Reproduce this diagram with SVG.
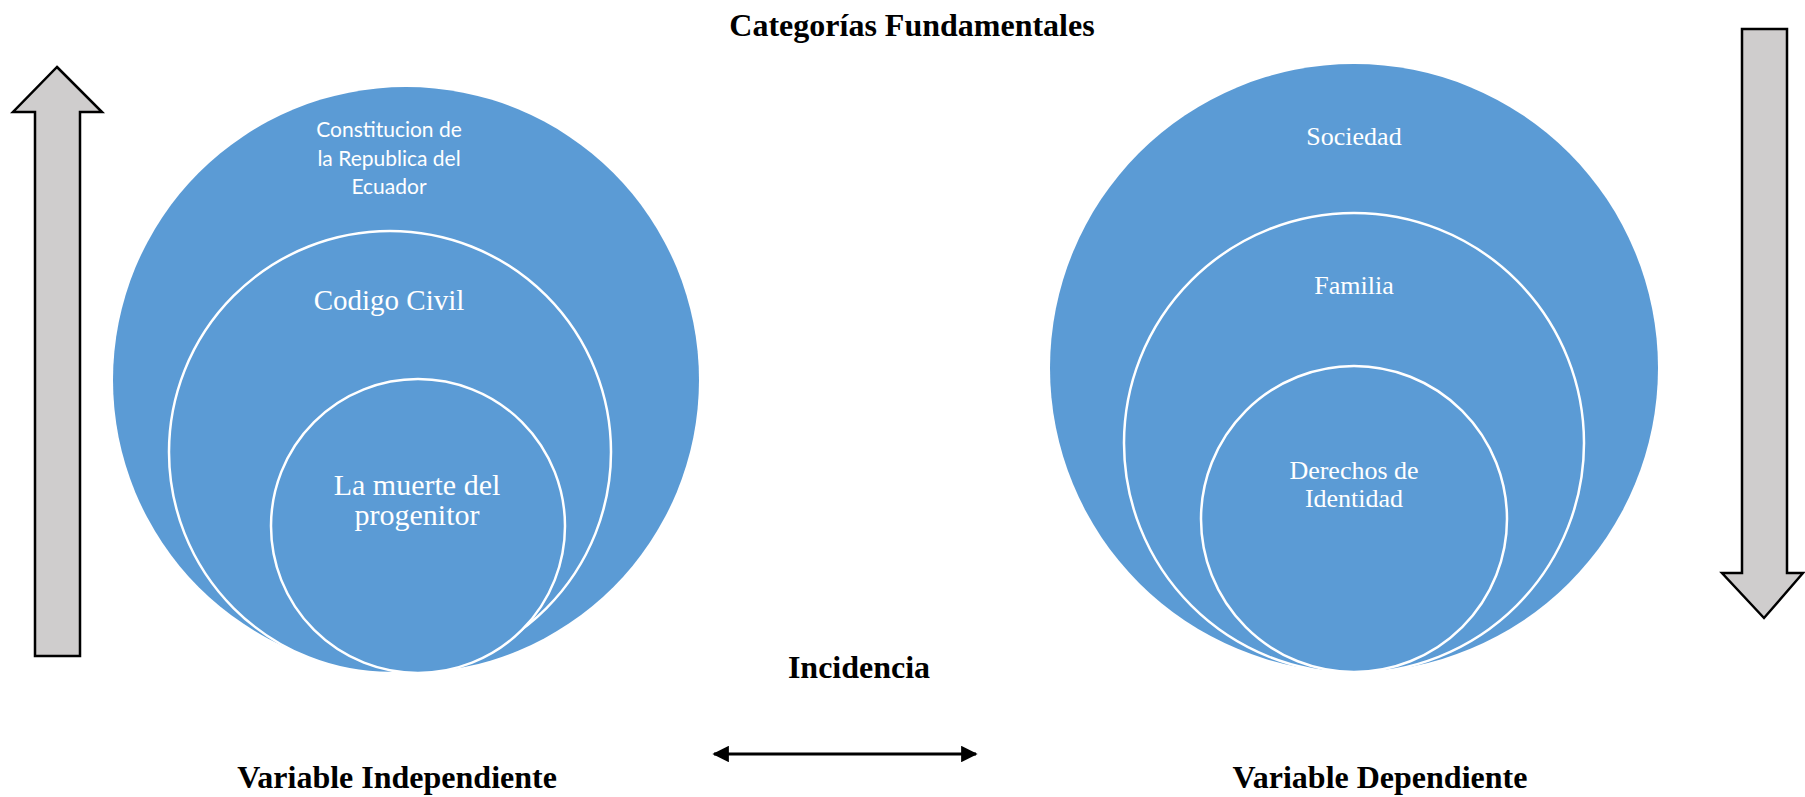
<svg xmlns="http://www.w3.org/2000/svg" width="1805" height="797" viewBox="0 0 1805 797">
<style>
.bg{fill:#ffffff}
.outer{fill:#5B9BD5}
.inner{fill:#5B9BD5;stroke:#ffffff;stroke-width:2.5}
.big{fill:#cfcdcd;stroke:#000000;stroke-width:2.5;stroke-linejoin:miter}
.ttl{font-family:"Liberation Serif","Times New Roman",serif;font-weight:bold;font-size:32px;fill:#000;text-anchor:middle}
.ser{font-family:"Liberation Serif","Times New Roman",serif;fill:#fff;text-anchor:middle}
.sans{font-family:Lato,"Open Sans",sans-serif;font-size:21px;fill:#fff;text-anchor:middle}
.conn{stroke:#000;stroke-width:3;fill:none}
</style>
<defs>
<marker id="ah" viewBox="0 0 10 10" refX="9" refY="5" markerWidth="5.5" markerHeight="5.5" orient="auto-start-reverse" markerUnits="strokeWidth">
<path d="M0,0 L10,5 L0,10 Z" fill="#000"/>
</marker>
</defs>
<rect class="bg" x="0" y="0" width="1805" height="797"/>
<text class="ttl" x="912" y="36">Categorías Fundamentales</text>
<g id="arrow-up"><polygon class="big" points="57,67 102,112 80,112 80,656 35,656 35,112 13,112"/></g>
<g id="arrow-down"><polygon class="big" points="1742,29 1787,29 1787,573 1803,573 1764,618 1722,573 1742,573"/></g>
<g id="n-constitucion">
<circle class="outer" cx="406" cy="380" r="293"/>
<text class="sans" x="389" y="137">Constitucion de</text>
<text class="sans" x="389" y="166">la Republica del</text>
<text class="sans" x="389" y="194">Ecuador</text>
</g>
<g id="n-codigo">
<circle class="inner" cx="390" cy="452" r="221"/>
<text class="ser" x="389" y="310" font-size="29">Codigo Civil</text>
</g>
<g id="n-muerte">
<circle class="inner" cx="418" cy="526" r="147"/>
<text class="ser" x="417" y="495" font-size="30">La muerte del</text>
<text class="ser" x="417" y="525" font-size="30">progenitor</text>
</g>
<g id="n-sociedad">
<circle class="outer" cx="1354" cy="368" r="304"/>
<text class="ser" x="1354" y="145" font-size="26">Sociedad</text>
</g>
<g id="n-familia">
<circle class="inner" cx="1354" cy="443" r="230"/>
<text class="ser" x="1354" y="294" font-size="26">Familia</text>
</g>
<g id="n-derechos">
<circle class="inner" cx="1354" cy="519" r="153"/>
<text class="ser" x="1354" y="479" font-size="26">Derechos de</text>
<text class="ser" x="1354" y="507" font-size="26">Identidad</text>
</g>
<text class="ttl" x="859" y="678">Incidencia</text>
<g id="connectors">
<line class="conn" x1="714" y1="754" x2="976" y2="754" marker-start="url(#ah)" marker-end="url(#ah)"/>
</g>
<text class="ttl" x="397" y="788">Variable Independiente</text>
<text class="ttl" x="1380" y="788">Variable Dependiente</text>
</svg>
